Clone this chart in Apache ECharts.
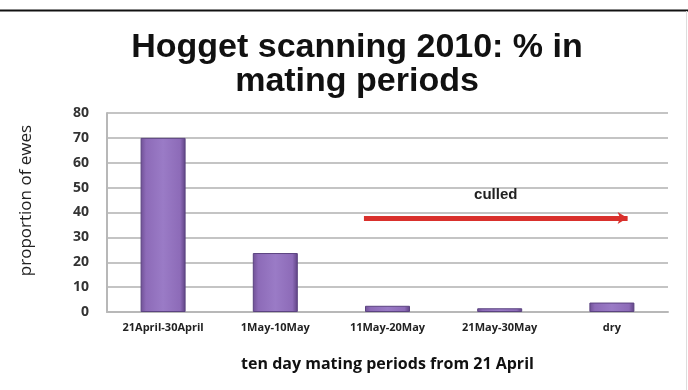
<!DOCTYPE html>
<html><head><meta charset="utf-8">
<script src="https://cdn.jsdelivr.net/npm/echarts@6/dist/echarts.min.js"></script>
<style>html,body{margin:0;padding:0;background:#fff}#c{width:688px;height:390px}</style>
</head><body><div id="c"></div>
<script>
const titleText = 'Hogget scanning 2010: % in\nmating periods';
const categories = ['21April-30April', '1May-10May', '11May-20May', '21May-30May', 'dry'];
const values = [70, 23.7, 2.5, 1.5, 3.8];
const yTicks = [0, 10, 20, 30, 40, 50, 60, 70, 80];
const yName = 'proportion of ewes';
const xName = 'ten day mating periods from 21 April';
const arrowLabel = 'culled';
const arrowStart = [1.79, 37.8];
const arrowEnd = [4.14, 37.8];

const chart = echarts.init(document.getElementById('c'), null, {renderer: 'canvas'});
chart.setOption({
  animation: false,
  backgroundColor: '#fff',
  title: {
    text: titleText, left: 352, top: 26, textAlign: 'center',
    textStyle: {fontFamily: 'Liberation Sans', fontWeight: 'bold', fontSize: 34, lineHeight: 34, color: '#111'}
  },
  grid: {left: 107, right: 20, top: 113, bottom: 78},
  xAxis: [{
    type: 'category', data: categories,
    axisLine: {show: true, lineStyle: {color: '#b8b8b8', width: 2}},
    axisTick: {show: false},
    axisLabel: {fontFamily: 'Open Sans', fontWeight: 'bold', fontSize: 11, color: '#222', margin: 10, interval: 0},
    name: xName, nameLocation: 'middle', nameGap: 44,
    nameTextStyle: {fontFamily: 'Open Sans', fontWeight: 'bold', fontSize: 16, color: '#111'}
  }, {
    type: 'value', min: -0.5, max: 4.5, show: false, position: 'bottom'
  }],
  yAxis: {
    type: 'value', min: yTicks[0], max: yTicks[yTicks.length - 1], interval: 10,
    axisLine: {show: true, onZero: false, lineStyle: {color: '#b8b8b8', width: 2}},
    axisTick: {show: false},
    splitLine: {lineStyle: {color: '#c4c4c4', width: 2}},
    axisLabel: {fontFamily: 'Open Sans', fontWeight: 'bold', fontSize: 14, color: '#333', margin: 18},
    name: yName, nameLocation: 'middle', nameGap: 72, nameRotate: 90,
    nameTextStyle: {fontFamily: 'Open Sans', fontSize: 17, color: '#222', padding: [0, 0, 0, 24]}
  },
  series: [{
    type: 'bar', data: values, barWidth: 45,
    itemStyle: {
      color: new echarts.graphic.LinearGradient(0, 0, 1, 0, [
        {offset: 0, color: '#6f5095'},
        {offset: 0.12, color: '#8d6bb8'},
        {offset: 0.5, color: '#9a7bc6'},
        {offset: 0.88, color: '#8d6bb8'},
        {offset: 1, color: '#5e4282'}
      ]),
      borderColor: '#5b4380', borderWidth: 1
    }
  }, {
    type: 'scatter', xAxisIndex: 1, data: [], silent: true,
    markLine: {
      silent: true, symbol: ['none', 'arrow'], symbolSize: [9, 10],
      lineStyle: {color: '#d9302c', width: 5, type: 'solid'},
      label: {show: true, position: 'middle', formatter: arrowLabel, distance: 16,
        fontFamily: 'Liberation Sans', fontWeight: 'bold', fontSize: 15, color: '#222'},
      data: [[{coord: arrowStart}, {coord: arrowEnd}]]
    }
  }],
  graphic: [
    {type: 'line', shape: {x1: 0, y1: 10.5, x2: 688, y2: 10.5}, style: {stroke: '#111', lineWidth: 2}},
    {type: 'line', shape: {x1: 686.5, y1: 11, x2: 686.5, y2: 390}, style: {stroke: '#ddd', lineWidth: 1}}
  ]
});
</script></body></html>
